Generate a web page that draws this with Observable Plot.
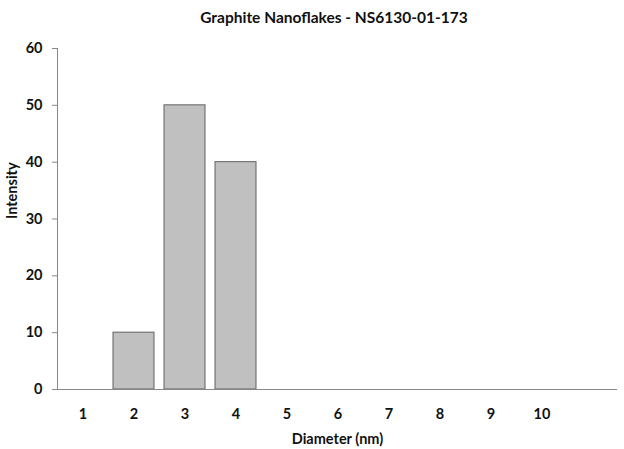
<!DOCTYPE html>
<html>
<head>
<meta charset="utf-8">
<script src="https://cdn.jsdelivr.net/npm/d3@7"></script>
<script src="https://cdn.jsdelivr.net/npm/@observablehq/plot@0.6"></script>
<style>
  body { margin: 0; background: #fff; font-family: Lato, sans-serif; }
  #wrap { position: relative; width: 624px; height: 449px; }
  #title { position: absolute; left: 0; top: 0; width: 668px; height: 34px; text-align: center; font-weight: bold; font-size: 15.5px; line-height: 34px; color: #111; }
  #chart { position: absolute; left: 0; top: 34px; }
</style>
</head>
<body>
<div id="wrap">
  <div id="title">Graphite Nanoflakes - NS6130-01-173</div>
  <div id="chart"></div>
</div>
<script>
const diameters = [1, 2, 3, 4, 5, 6, 7, 8, 9, 10];
const intensity = [0, 10, 50, 40, 0, 0, 0, 0, 0, 0];
const xSlots = [1, 2, 3, 4, 5, 6, 7, 8, 9, 10, 11];
const yTicks = [0, 10, 20, 30, 40, 50, 60];

const data = diameters.map((d, i) => ({d, v: intensity[i]}));

const chart = Plot.plot({
  width: 624,
  height: 415,
  marginLeft: 57,
  marginRight: 7,
  marginTop: 14,
  marginBottom: 60,
  style: {fontFamily: "Lato, sans-serif", fontSize: "14.5px", fontWeight: "bold", color: "#111", background: "#fff"},
  x: {type: "band", domain: xSlots, paddingInner: 0.2, paddingOuter: 0},
  y: {domain: [0, 60]},
  marks: [
    Plot.barY(data.filter(r => r.v > 0), {x: "d", y: "v", fill: "#c0c0c0", stroke: "#606060", strokeWidth: 1}),
    Plot.ruleY([0], {stroke: "#888"}),
    Plot.frame({anchor: "left", stroke: "#888"}),
    Plot.axisY({ticks: yTicks, tickSize: 5, tickPadding: 10, stroke: "#888", label: null}),
    Plot.axisX({tickSize: 0, tickPadding: 19, tickFormat: d => d === 11 ? "" : String(d), label: null}),
    Plot.text(["Intensity"], {frameAnchor: "left", dx: -45, rotate: -90, fontSize: 14.5, fontWeight: "bold", fill: "#111"}),
    Plot.text(["Diameter (nm)"], {frameAnchor: "bottom", dy: 54, fontSize: 14.5, fontWeight: "bold", fill: "#111"})
  ]
});
document.getElementById("chart").appendChild(chart);
</script>
</body>
</html>
